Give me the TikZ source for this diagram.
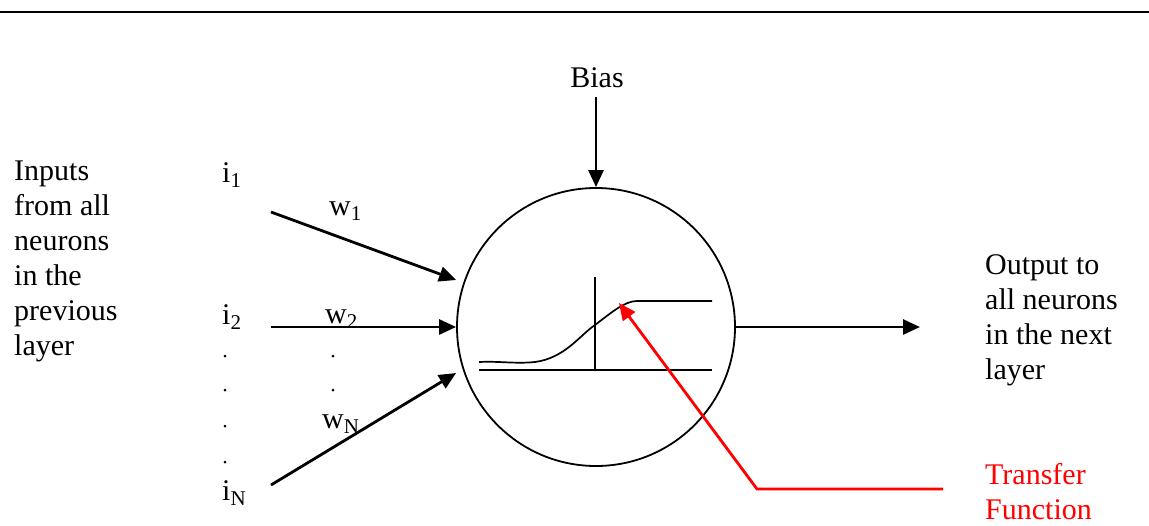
\documentclass[tikz,border=0pt]{standalone}
\usepackage{fontspec}
\setmainfont{Liberation Serif}
\usetikzlibrary{arrows.meta,positioning,calc}
\definecolor{TFRed}{HTML}{FF0000}
\tikzset{
  neuron/.style={draw, circle, line width=1.8pt, minimum size=278pt, inner sep=0pt},
  txt/.style={inner sep=0pt, font=\fontsize{30}{35}\selectfont, align=left},
  wire/.style={-{Triangle[length=17pt,width=15pt]}, line width=2.8pt},
  redwire/.style={wire, draw=TFRed},
  graphline/.style={line width=1.7pt},
  dot/.style={circle, fill, inner sep=0pt, minimum size=3pt}
}

\begin{document}
\begin{tikzpicture}[x=1pt, y=-1pt]
  \useasboundingbox (0,0) rectangle (1149,525);
  \draw[line width=2.6pt] (0,12) -- (1149,12);

  % the neuron and its transfer function
  \node[neuron] (neuron) at (596,327) {};
  \draw[graphline] (479,370) -- (712,370);
  \draw[graphline] (595,277) -- (595,370);
  \draw[graphline] (479,362) .. controls (500,361) and (515,364) .. (535,362)
    .. controls (565,358) and (580,335) .. (595,325)
    .. controls (612,312) and (625,301) .. (637,301) -- (712,301);

  % texts
  \node[txt, anchor=north west] (inputs) at (14,161) {Inputs\\from all\\neurons\\in the\\previous\\layer};
  \node[txt, anchor=north west] (output) at (985,254) {Output to\\all neurons\\in the next\\layer};
  \node[txt, anchor=north west, text=TFRed] (transfer) at (985,463) {Transfer\\Function};
  \node[txt, anchor=base] (bias) at (597,87) {Bias};
  \node[txt, anchor=base west] (i1) at (222,182) {i\textsubscript{1}};
  \node[txt, anchor=base west] (i2) at (222,324) {i\textsubscript{2}};
  \node[txt, anchor=base west] (iN) at (222,500) {i\textsubscript{N}};
  \node[txt, anchor=base west] (w1) at (329,215) {w\textsubscript{1}};
  \node[txt, anchor=base west] (w2) at (325,323) {w\textsubscript{2}};
  \node[txt, anchor=base west] (wN) at (322,428) {w\textsubscript{N}};
  \foreach \y in {356,390,426,462}
    \node[dot] at (225,\y) {};
  \foreach \y in {356,390}
    \node[dot] at (333,\y) {};

  % connectors
  \coordinate (from1) at (271,212);
  \coordinate (from2) at (271,327);
  \coordinate (fromN) at (271,485);
  \coordinate (to1) at ($(neuron.west)+(0,-47)$);
  \coordinate (toN) at ($(neuron.west)+(0,46)$);
  \coordinate (biasfrom) at (596,97);
  \coordinate (outto) at (920,327);
  \coordinate (tfend) at (943,489);
  \coordinate (tfbend) at (757,489);
  \coordinate (tftip) at (619,303);
  \draw[wire] (from1) -- (to1);
  \draw[wire] (from2) -- (neuron.west);
  \draw[wire] (fromN) -- (toN);
  \draw[wire] (biasfrom) -- (neuron.north);
  \draw[wire] (neuron.east) -- (outto);
  \draw[redwire] (tfend) -- (tfbend) -- (tftip);
\end{tikzpicture}
\end{document}
